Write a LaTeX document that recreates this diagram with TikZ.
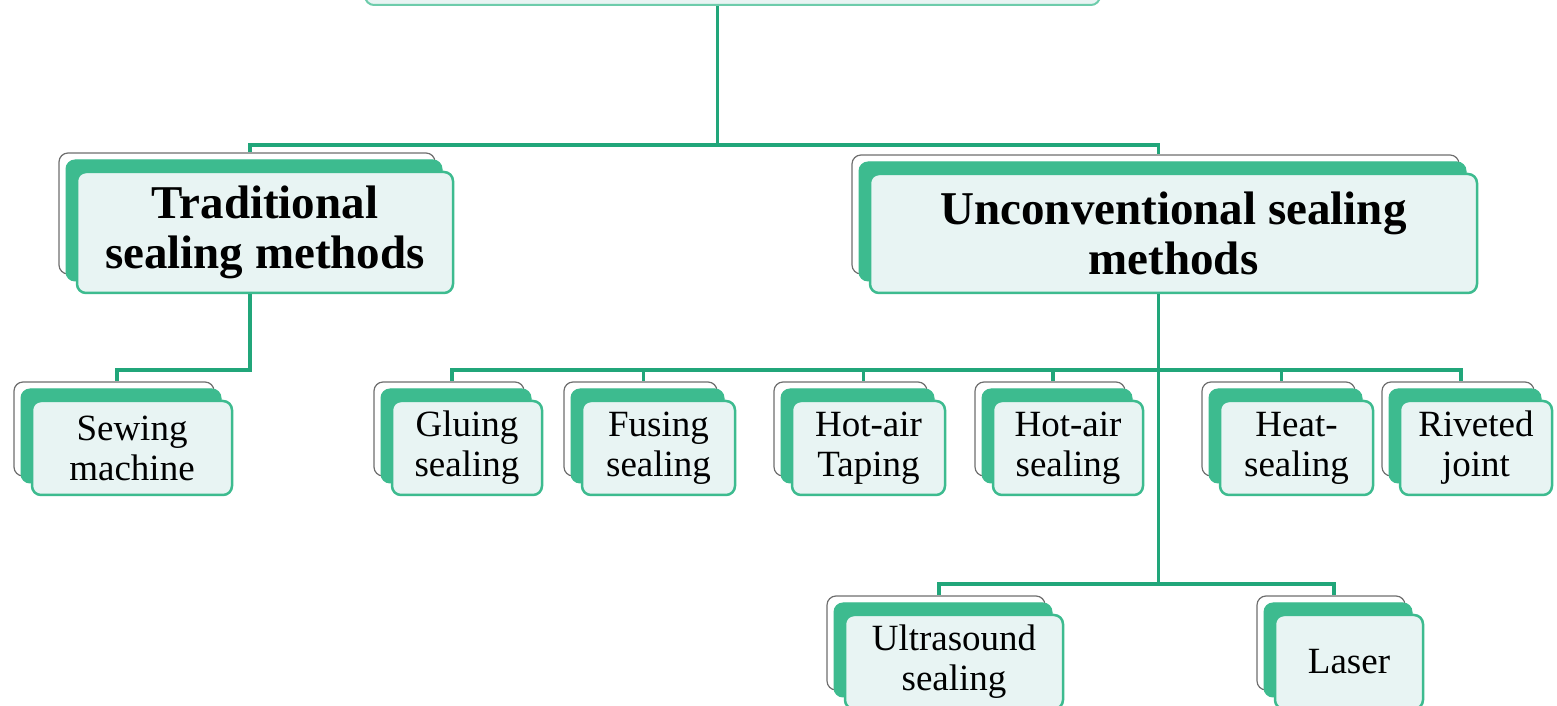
\documentclass[tikz,border=0pt]{standalone}
\usepackage{fontspec}
\setmainfont{Liberation Serif}
\usetikzlibrary{shadows}

\definecolor{leaf}{HTML}{3DBB8F}
\definecolor{stem}{HTML}{21A67A}
\definecolor{mist}{HTML}{E8F4F3}
\definecolor{rim}{HTML}{6E6E6E}

\tikzset{
  layered/.style={rectangle, rounded corners=9pt, fill=mist, draw=leaf,
    line width=2.5pt, inner sep=0pt, align=center,
    general shadow={shadow xshift=-18pt, shadow yshift=19pt,
      fill=white, draw=rim, line width=1.2pt},
    general shadow={shadow xshift=-11pt, shadow yshift=12pt,
      fill=leaf, draw=leaf, line width=1pt}},
  headbox/.style={layered, font=\fontsize{47}{50}\selectfont\bfseries},
  leafbox/.style={layered, minimum height=94pt, font=\fontsize{37}{40}\selectfont},
  conn/.style={draw=stem, line width=3.5pt}
}

\begin{document}
\begin{tikzpicture}[x=1pt, y=1pt]
\useasboundingbox (0,0) rectangle (1557,706);
\clip (0,0) rectangle (1557,706);

% root box, only its lower edge falls inside the page
\node[layered, draw=leaf!75, line width=2pt, minimum width=735pt, minimum height=105pt] (top) at (732.5,753.5) {};

% second level
\node[headbox, minimum width=376pt, minimum height=121pt] (trad) at (265,473.5) {Traditional\\sealing methods};
\node[headbox, minimum width=607pt, minimum height=119pt] (unconv) at (1173.5,472.5) {Unconventional sealing\\methods};

% third level
\node[leafbox, minimum width=200pt] (sew)   at (132,258)    {Sewing\\machine};
\node[leafbox, minimum width=150pt] (glue)  at (467,258)    {Gluing\\sealing};
\node[leafbox, minimum width=153pt] (fuse)  at (658.5,258)  {Fusing\\sealing};
\node[leafbox, minimum width=153pt] (tape)  at (868.5,258)  {Hot-air\\Taping};
\node[leafbox, minimum width=150pt] (hseal) at (1068,258)   {Hot-air\\sealing};
\node[leafbox, minimum width=153pt] (heat)  at (1296.5,258) {Heat-\\sealing};
\node[leafbox, minimum width=152pt] (rivet) at (1476,258)   {Riveted\\joint};

% fourth level
\node[leafbox, minimum width=218pt] (ultra) at (954,44)  {Ultrasound\\sealing};
\node[leafbox, minimum width=148pt] (laser) at (1349,44) {Laser};

% attachment points on the back layers
\coordinate (top-out) at ([xshift=-15pt]top.south);
\coordinate (trad-out) at ([xshift=-15pt]trad.south);
\coordinate (unconv-out) at ([xshift=-15pt]unconv.south);
\foreach \n in {trad,unconv,sew,glue,fuse,hseal,heat,rivet,ultra,laser}
  \coordinate (\n-in) at ([xshift=-15pt,yshift=19pt]\n.north);
\coordinate (tape-in) at ([xshift=-5pt,yshift=19pt]tape.north);

% bus junctions
\coordinate (j1) at (top-out |- 0,561);
\coordinate (j2) at (unconv-out |- 0,336);
\coordinate (j3) at (unconv-out |- 0,122);

% connectors
\draw[conn] (top-out) -- (j1);
\draw[conn] (trad-in) |- (j1) -| (unconv-in);
\draw[conn] (trad-out) |- (sew-in |- j2) -- (sew-in);
\draw[conn] (unconv-out) -- (j3);
\draw[conn] (glue-in) |- (j2) -| (rivet-in);
\foreach \n in {fuse,tape,hseal,heat}
  \draw[conn] (\n-in) -- (\n-in |- j2);
\draw[conn] (ultra-in) |- (j3) -| (laser-in);
\end{tikzpicture}
\end{document}
